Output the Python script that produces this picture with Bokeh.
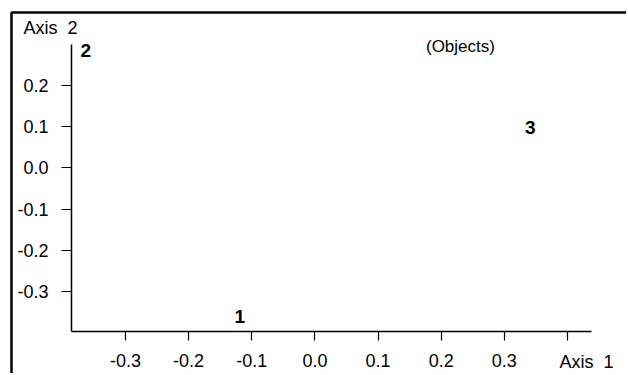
from bokeh.plotting import figure
from bokeh.models import ColumnDataSource, Range1d, FixedTicker, Label, BoxAnnotation, LinearAxis
from bokeh.core.properties import value
from bokeh.embed import file_html
from bokeh.resources import INLINE

# Data
object_labels = ["1", "2", "3"]
axis1_values = [-0.119, -0.363, 0.341]
axis2_values = [-0.361, 0.285, 0.098]

x_ticks = [-0.3, -0.2, -0.1, 0.0, 0.1, 0.2, 0.3, 0.4]
x_tick_labels = ["-0.3", "-0.2", "-0.1", "0.0", "0.1", "0.2", "0.3", ""]
y_ticks = [-0.3, -0.2, -0.1, 0.0, 0.1, 0.2]
y_tick_labels = ["-0.3", "-0.2", "-0.1", "0.0", "0.1", "0.2"]

# axis extents (where the axis lines start and end)
x_bounds = (-0.3855, 0.438)
y_bounds = (-0.397, 0.2995)
# visible ranges of the whole drawing area
x_view = (-0.4979, 0.4935)
y_view = (-0.4990, 0.4063)

FONT = "Liberation Sans"
W, H = 626, 373

src = ColumnDataSource(dict(x=axis1_values, y=axis2_values, label=object_labels))

p = figure(
    width=W, height=H, min_border=0,
    x_range=Range1d(*x_view), y_range=Range1d(*y_view),
    x_axis_type=None, y_axis_type=None,
    output_backend="svg", toolbar_location=None,
    background_fill_color="white", border_fill_color="white",
)
p.outline_line_color = None
p.grid.visible = False

xaxis = LinearAxis(fixed_location=y_bounds[0], bounds=x_bounds,
                   ticker=FixedTicker(ticks=x_ticks),
                   major_label_overrides=dict(zip(x_ticks, x_tick_labels)))
yaxis = LinearAxis(fixed_location=x_bounds[0], bounds=y_bounds,
                   ticker=FixedTicker(ticks=y_ticks),
                   major_label_overrides=dict(zip(y_ticks, y_tick_labels)))

for ax in (xaxis, yaxis):
    ax.axis_line_color = "black"
    ax.axis_line_width = 1.5
    ax.major_tick_line_color = "black"
    ax.major_tick_line_width = 1.2
    ax.major_tick_in = 0
    ax.minor_tick_line_color = None
    ax.major_label_text_font = FONT
    ax.major_label_text_font_size = "18px"
    ax.major_label_text_color = "black"

xaxis.major_tick_out = 9
xaxis.major_label_standoff = 14
yaxis.major_tick_out = 10
yaxis.major_label_standoff = 13
yaxis.major_label_orientation = "horizontal"

p.add_layout(xaxis, "below")
p.add_layout(yaxis, "left")

p.text(x="x", y="y", text="label", source=src,
       text_font=value(FONT), text_font_style="bold", text_font_size="19px",
       text_align="center", text_baseline="middle", text_color="black")

p.add_layout(Label(x=x_bounds[0], y=y_bounds[1], x_offset=-21, y_offset=17, text="Axis\u00a0\u00a02",
                   text_font=FONT, text_font_size="18px", text_align="center",
                   text_baseline="middle", text_color="black"))
p.add_layout(Label(x=x_bounds[1], y=y_bounds[0], x_offset=-5, y_offset=-31, text="Axis\u00a0\u00a01",
                   text_font=FONT, text_font_size="18px", text_align="center",
                   text_baseline="middle", text_color="black"))
p.add_layout(Label(x=x_bounds[1], y=y_bounds[1], x_offset=-131, y_offset=-2, text="(Objects)",
                   text_font=FONT, text_font_size="17px", text_align="center",
                   text_baseline="middle", text_color="black"))

p.add_layout(BoxAnnotation(left=11, right=W + 50, top=12, bottom=H + 50,
                           left_units="canvas", right_units="canvas",
                           top_units="canvas", bottom_units="canvas",
                           fill_alpha=0, fill_color=None,
                           line_color="black", line_alpha=1.0, line_width=2.5))

open("out.html", "w").write(file_html(p, INLINE))
